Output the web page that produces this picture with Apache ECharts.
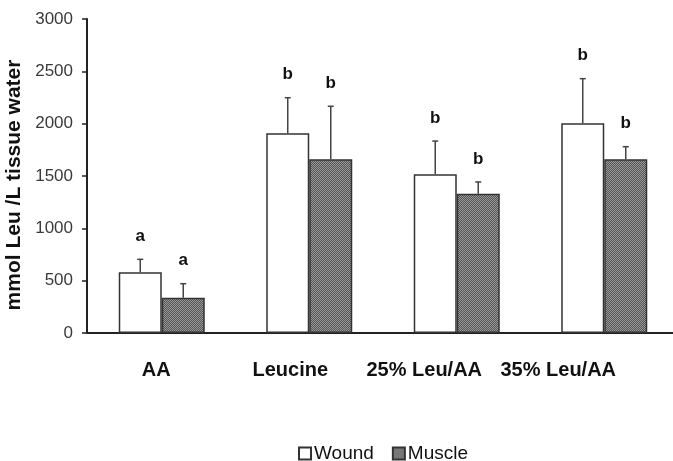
<!DOCTYPE html>
<html>
<head>
<meta charset="utf-8">
<script src="https://cdn.jsdelivr.net/npm/echarts@6/dist/echarts.min.js"></script>
<style>
  html, body { margin: 0; padding: 0; background: #fff; }
  #myChart { width: 673px; height: 461px; }
</style>
</head>
<body>
<div id="myChart"></div>
<script>
// data
var categories = ["AA", "Leucine", "25% Leu/AA", "35% Leu/AA"];
var woundMean = [580, 1908, 1516, 2003];
var woundErrTop = [704, 2248, 1834, 2430];
var woundLetters = ["a", "b", "b", "b"];
var muscleMean = [337, 1660, 1331, 1660];
var muscleErrTop = [471, 2166, 1443, 1780];
var muscleLetters = ["a", "b", "b", "b"];
var yTicks = [0, 500, 1000, 1500, 2000, 2500, 3000];

var BAR_W = 43;
var FONT = "'Liberation Sans', Arial, sans-serif";

// dotted dark grey fill for the muscle bars
function makePattern() {
  var c = document.createElement("canvas");
  c.width = 2;
  c.height = 2;
  var ctx = c.getContext("2d");
  ctx.fillStyle = "#555";
  ctx.fillRect(0, 0, 2, 2);
  ctx.fillStyle = "#999";
  ctx.fillRect(0, 0, 1, 1);
  ctx.fillRect(1, 1, 1, 1);
  return { image: c, repeat: "repeat" };
}

function errData(tops, means, letters) {
  var out = [];
  for (var i = 0; i < tops.length; i++) {
    out.push([i, means[i], tops[i], letters[i]]);
  }
  return out;
}

function errRender(offset) {
  return function (params, api) {
    var base = api.coord([api.value(0), api.value(1)]);
    var top = api.coord([api.value(0), api.value(2)]);
    var x = base[0] + offset;
    var style = { stroke: "#444", lineWidth: 1.5 };
    return {
      type: "group",
      children: [
        { type: "line", shape: { x1: x, y1: base[1], x2: x, y2: top[1] }, style: style },
        { type: "line", shape: { x1: x - 3, y1: top[1], x2: x + 3, y2: top[1] }, style: style },
        {
          type: "text",
          x: x,
          y: top[1] - 23,
          style: {
            text: api.value(3),
            textAlign: "center",
            textVerticalAlign: "middle",
            font: "bold 17px " + FONT,
            fill: "#111"
          }
        }
      ]
    };
  };
}

// category labels sit left of their bar pairs in the original
var labelShift = { c0: 11, c1: 38, c2: 65, c3: 92 };
var labelRich = {};
Object.keys(labelShift).forEach(function (k) {
  labelRich[k] = {
    fontFamily: FONT,
    fontSize: 20,
    fontWeight: "bold",
    color: "#111",
    padding: [0, labelShift[k], 0, 0]
  };
});

var myChart = echarts.init(document.getElementById("myChart"));
var musclePattern = makePattern();

myChart.setOption({
  animation: false,
  grid: { left: 88, right: -5, top: 19, bottom: 128, containLabel: false, outerBoundsMode: "none" },
  legend: {
    left: 293,
    top: 439,
    itemWidth: 12,
    itemHeight: 12,
    itemGap: 18,
    icon: "rect",
    textStyle: { fontFamily: FONT, fontSize: 19, color: "#111", padding: [0, 0, 0, -2] },
    data: ["Wound", "Muscle"]
  },
  xAxis: {
    type: "category",
    data: categories,
    axisLine: { lineStyle: { color: "#222", width: 2 } },
    axisTick: { show: false },
    axisLabel: {
      margin: 27,
      interval: 0,
      formatter: function (v, i) {
        return "{c" + i + "|" + v + "}";
      },
      rich: labelRich
    }
  },
  yAxis: {
    type: "value",
    min: yTicks[0],
    max: yTicks[yTicks.length - 1],
    interval: 500,
    offset: 1,
    name: "mmol Leu /L tissue water",
    nameLocation: "middle",
    nameGap: 61,
    nameTextStyle: {
      fontFamily: FONT,
      fontSize: 21,
      fontWeight: "bold",
      color: "#111",
      padding: [0, 18, 0, 0]
    },
    axisLine: { show: true, lineStyle: { color: "#222", width: 2 } },
    axisTick: { show: true, length: 5, lineStyle: { color: "#222", width: 1.5 } },
    axisLabel: {
      fontFamily: FONT,
      fontSize: 17,
      color: "#3a3a3a",
      margin: 14,
      formatter: function (v) { return String(v); }
    },
    splitLine: { show: false }
  },
  series: [
    {
      name: "Wound",
      type: "bar",
      data: woundMean,
      barWidth: BAR_W,
      barGap: "0%",
      itemStyle: { color: "#fff", borderColor: "#333", borderWidth: 1.5 }
    },
    {
      name: "Muscle",
      type: "bar",
      data: muscleMean,
      barWidth: BAR_W,
      itemStyle: { color: musclePattern, borderColor: "#333", borderWidth: 1.5 }
    },
    {
      type: "custom",
      renderItem: errRender(-BAR_W / 2),
      data: errData(woundErrTop, woundMean, woundLetters),
      z: 10,
      silent: true
    },
    {
      type: "custom",
      renderItem: errRender(BAR_W / 2),
      data: errData(muscleErrTop, muscleMean, muscleLetters),
      z: 10,
      silent: true
    }
  ]
});
</script>
</body>
</html>
